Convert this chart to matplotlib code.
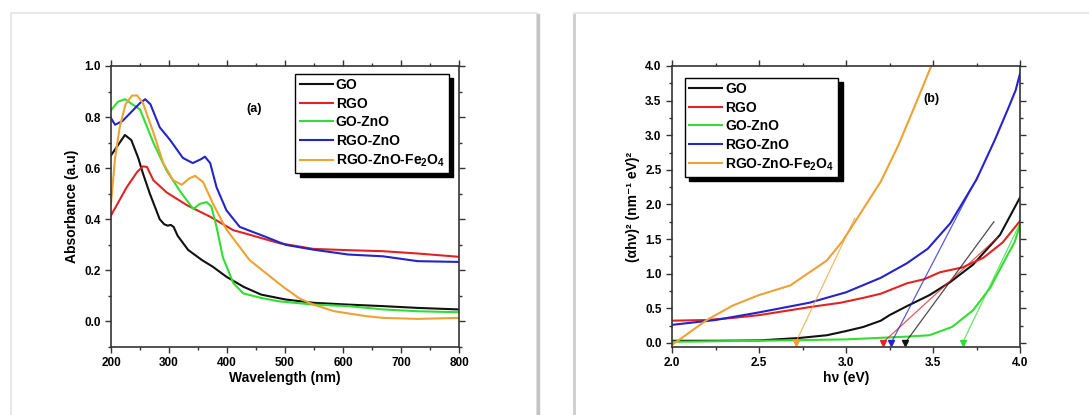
import matplotlib
matplotlib.use('Agg')
import matplotlib.pyplot as plt
import numpy as np
from matplotlib.patches import Rectangle
from matplotlib.lines import Line2D
from matplotlib.ticker import MultipleLocator

plt.rcParams['font.family'] = ['Liberation Sans', 'DejaVu Sans']
plt.rcParams['font.weight'] = 'bold'
plt.rcParams['mathtext.fontset'] = 'custom'
plt.rcParams['mathtext.bf'] = 'Liberation Sans:bold'
plt.rcParams['mathtext.rm'] = 'Liberation Sans:bold'
plt.rcParams['mathtext.default'] = 'bf'

# ---- data: (a) UV-vis absorbance ----
labels = ['GO', 'RGO', 'GO-ZnO', 'RGO-ZnO', 'RGO-ZnO-Fe$_2$O$_4$']
colors = ['#111111', '#e02424', '#33dd33', '#2424c8', '#eda234']

go_wl = [200, 212, 224, 235, 247, 255, 267, 284, 292, 298, 303, 308, 315, 333, 357, 375, 399, 429, 459, 501, 549, 609, 669, 729, 800]
go_abs = [0.65, 0.69, 0.73, 0.71, 0.64, 0.58, 0.50, 0.40, 0.38, 0.375, 0.378, 0.37, 0.335, 0.28, 0.24, 0.215, 0.175, 0.135, 0.105, 0.086, 0.073, 0.066, 0.06, 0.053, 0.047]

rgo_wl = [200, 227, 245, 255, 262, 273, 296, 331, 371, 411, 429, 489, 549, 609, 669, 729, 800]
rgo_abs = [0.415, 0.525, 0.585, 0.607, 0.605, 0.553, 0.505, 0.455, 0.41, 0.357, 0.346, 0.307, 0.284, 0.279, 0.275, 0.266, 0.253]

goz_wl = [200, 212, 224, 250, 273, 296, 319, 342, 353, 365, 373, 382, 393, 411, 428, 459, 489, 549, 609, 669, 729, 800]
goz_abs = [0.827, 0.86, 0.87, 0.83, 0.70, 0.59, 0.51, 0.44, 0.46, 0.467, 0.45, 0.37, 0.25, 0.15, 0.11, 0.092, 0.079, 0.066, 0.06, 0.047, 0.04, 0.036]

rgoz_wl = [200, 207, 220, 235, 250, 259, 268, 284, 302, 324, 341, 355, 362, 371, 382, 399, 422, 468, 501, 549, 609, 669, 729, 800]
rgoz_abs = [0.796, 0.77, 0.785, 0.82, 0.855, 0.87, 0.85, 0.76, 0.71, 0.64, 0.62, 0.635, 0.645, 0.62, 0.525, 0.435, 0.37, 0.33, 0.30, 0.281, 0.262, 0.255, 0.236, 0.233]

fe_wl = [200, 207, 215, 225, 236, 245, 255, 273, 290, 307, 322, 335, 345, 359, 376, 399, 439, 497, 525, 549, 585, 639, 669, 729, 800]
fe_abs = [0.46, 0.64, 0.76, 0.85, 0.884, 0.885, 0.855, 0.74, 0.62, 0.553, 0.535, 0.56, 0.57, 0.545, 0.46, 0.36, 0.24, 0.135, 0.09, 0.066, 0.04, 0.021, 0.014, 0.01, 0.014]

# ---- data: (b) Tauc plot ----
go_ev = [2.0, 2.25, 2.5, 2.73, 2.89, 3.0, 3.1, 3.2, 3.25, 3.35, 3.48, 3.6, 3.73, 3.885, 4.0]
go_t = [0.03, 0.03, 0.035, 0.07, 0.11, 0.17, 0.23, 0.32, 0.40, 0.53, 0.69, 0.88, 1.13, 1.56, 2.1]

rgo_ev = [2.0, 2.2, 2.35, 2.5, 2.65, 2.8, 2.97, 3.1, 3.2, 3.35, 3.45, 3.54, 3.67, 3.79, 3.9, 4.0]
rgo_t = [0.32, 0.33, 0.36, 0.40, 0.46, 0.52, 0.58, 0.65, 0.71, 0.86, 0.92, 1.02, 1.09, 1.23, 1.45, 1.76]

goz_ev = [2.0, 2.5, 3.0, 3.35, 3.48, 3.61, 3.73, 3.83, 3.92, 3.97, 4.0]
goz_t = [0.015, 0.03, 0.05, 0.09, 0.11, 0.23, 0.47, 0.80, 1.23, 1.46, 1.70]

rgoz_ev = [2.0, 2.25, 2.5, 2.79, 3.0, 3.2, 3.35, 3.47, 3.6, 3.75, 3.855, 3.936, 3.975, 4.0]
rgoz_t = [0.26, 0.33, 0.44, 0.58, 0.73, 0.94, 1.15, 1.36, 1.73, 2.36, 2.93, 3.41, 3.65, 3.89]

fe_ev = [2.0, 2.05, 2.2, 2.35, 2.5, 2.68, 2.89, 2.98, 3.08, 3.2, 3.3, 3.4, 3.49]
fe_t = [-0.03, 0.06, 0.33, 0.54, 0.69, 0.83, 1.19, 1.47, 1.86, 2.33, 2.85, 3.45, 4.0]

# tangent lines (x0, x1, y1), starting from y=0
tan_x0 = [3.34, 3.21, 3.67, 3.26, 2.71]
tan_x1 = [3.85, 3.87, 4.0, 3.76, 3.05]
tan_y1 = [1.75, 1.52, 1.73, 2.42, 1.8]

fig = plt.figure(figsize=(10.89, 4.15), dpi=100)
W, H = 1089, 415

# card frames
for cx0, cx1 in [(11, 537), (574, 1100)]:
    fig.patches.append(Rectangle((cx0 / W, -0.1), (cx1 - cx0) / W, 1.1 - 13 / H,
                                 transform=fig.transFigure, facecolor='white',
                                 edgecolor='#e8e8e8', lw=1.5, zorder=-10))
fig.lines.append(Line2D([538 / W, 538 / W], [0, 1 - 15 / H], transform=fig.transFigure,
                        color='#c4c4c4', lw=2.5, zorder=-9))
fig.lines.append(Line2D([574 / W, 574 / W], [0, 1 - 15 / H], transform=fig.transFigure,
                        color='#cdcdcd', lw=2.0, zorder=-9))

ax1 = fig.add_axes([111 / W, 1 - 347 / H, 348 / W, 281 / H])
ax2 = fig.add_axes([672 / W, 1 - 347 / H, 348 / W, 281 / H])

abs_x = [go_wl, rgo_wl, goz_wl, rgoz_wl, fe_wl]
abs_y = [go_abs, rgo_abs, goz_abs, rgoz_abs, fe_abs]
for x, y, c, lab in zip(abs_x, abs_y, colors, labels):
    ax1.plot(x, y, color=c, lw=1.5, label=lab)

tauc_x = [go_ev, rgo_ev, goz_ev, rgoz_ev, fe_ev]
tauc_y = [go_t, rgo_t, goz_t, rgoz_t, fe_t]
for x, y, c, lab in zip(tauc_x, tauc_y, colors, labels):
    ax2.plot(x, y, color=c, lw=1.5, label=lab)
for x0, x1, y1, c in zip(tan_x0, tan_x1, tan_y1, colors):
    ax2.plot([x0, x1], [0, y1], color=c, lw=0.9, alpha=0.75)
    ax2.plot([x0], [0.0], marker='v', color=c, ms=4, clip_on=False)

ax1.set_xlim(200, 800)
ax1.set_ylim(-0.1, 1.0)
ax1.xaxis.set_major_locator(MultipleLocator(100))
ax1.xaxis.set_minor_locator(MultipleLocator(50))
ax1.yaxis.set_major_locator(MultipleLocator(0.2))
ax1.yaxis.set_minor_locator(MultipleLocator(0.1))
ax1.set_xlabel('Wavelength (nm)', fontsize=10, fontweight='bold', labelpad=1)
ax1.set_ylabel('Absorbance (a.u)', fontsize=10, fontweight='bold', labelpad=4)
ax1.text(446, 0.83, '(a)', fontsize=9, fontweight='bold', ha='center', va='center')

ax2.set_xlim(2.0, 4.0)
ax2.set_ylim(-0.06, 4.0)
ax2.xaxis.set_major_locator(MultipleLocator(0.5))
ax2.xaxis.set_minor_locator(MultipleLocator(0.25))
ax2.yaxis.set_major_locator(MultipleLocator(0.5))
ax2.yaxis.set_minor_locator(MultipleLocator(0.25))
ax2.set_xlabel('hν (eV)', fontsize=10, fontweight='bold', labelpad=1)
ax2.set_ylabel('(αhν)² (nm⁻¹ eV)²', fontsize=10, fontweight='bold', labelpad=4)
ax2.text(3.49, 3.52, '(b)', fontsize=9, fontweight='bold', ha='center', va='center')

for ax in (ax1, ax2):
    for s in ax.spines.values():
        s.set_linewidth(1.2)
        s.set_color('#333333')
    ax.tick_params(which='both', direction='out', top=True, right=True, labelsize=8.5, width=1, color='#333333')
    ax.tick_params(which='major', length=4)
    ax.tick_params(which='minor', length=2.5)
    for t in ax.get_xticklabels() + ax.get_yticklabels():
        t.set_fontweight('bold')

shadow = {'ox': 3, 'oy': -3, 'color': 'black', 'alpha': 1}
for ax, anchor in [(ax1, (0.53, 0.972)), (ax2, (0.037, 0.958))]:
    leg = ax.legend(loc='upper left', bbox_to_anchor=anchor, fontsize=10, frameon=True,
                    fancybox=False, edgecolor='black', shadow=shadow, handlelength=2.4,
                    handletextpad=0.2, labelspacing=0.33, borderpad=0.3, borderaxespad=0)
    leg.get_frame().set_linewidth(1.0)

fig.savefig('out.png', dpi=100)
